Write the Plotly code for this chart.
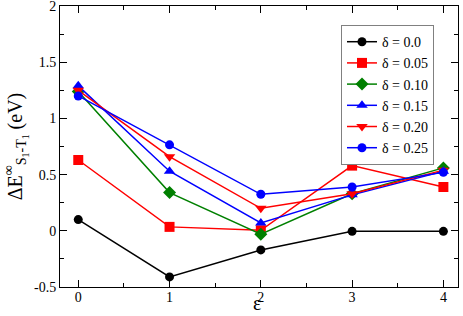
import plotly.graph_objects as go

eps = [0, 1, 2, 3, 4]
names = ["δ = 0.0", "δ = 0.05", "δ = 0.10", "δ = 0.15", "δ = 0.20", "δ = 0.25"]
d000 = [0.10, -0.41, -0.17, -0.005, -0.005]
d005 = [0.63, 0.035, 0.005, 0.58, 0.39]
d010 = [1.24, 0.34, -0.03, 0.33, 0.56]
d015 = [1.29, 0.53, 0.07, 0.32, 0.53]
d020 = [1.25, 0.66, 0.20, 0.33, 0.54]
d025 = [1.20, 0.765, 0.325, 0.39, 0.52]
series = [d000, d005, d010, d015, d020, d025]
colors = ["black", "red", "green", "blue", "red", "blue"]
symbols = ["circle", "square", "diamond", "triangle-up", "triangle-down", "circle"]
msizes = [9, 10, 10, 10, 10, 9]

fig = go.Figure()
for n, ys, c, s, ms in zip(names, series, colors, symbols, msizes):
    fig.add_trace(go.Scatter(x=eps, y=ys, name=n, mode="lines+markers",
                             line=dict(color=c, width=1.5),
                             marker=dict(symbol=s, size=ms, color=c)))

font = "Liberation Serif"
axis_common = dict(showline=True, linecolor="black", linewidth=1, mirror="allticks",
                   ticks="inside", ticklen=7, tickcolor="black", showgrid=False,
                   zeroline=False, ticklabeloverflow="allow", automargin=False,
                   tickfont=dict(family=font, size=14, color="black"))
fig.update_xaxes(range=[-0.2, 4.16], tickvals=[0, 1, 2, 3, 4], ticklabelstandoff=-3,
                 minor=dict(dtick=0.5, ticks="inside", ticklen=4, tickcolor="black"),
                 **axis_common)
fig.update_yaxes(range=[-0.5, 2.0005], tickvals=[-0.5, 0, 0.5, 1, 1.5, 2],
                 ticktext=["-0.5", "0", "0.5", "1", "1.5", "2"],
                 minor=dict(dtick=0.25, ticks="inside", ticklen=4, tickcolor="black"),
                 title=dict(text="ΔE<sup>∞</sup><sub>S<sub>1</sub>-T<sub>1</sub></sub> (eV)",
                            font=dict(family=font, size=20, color="black"), standoff=6),
                 **axis_common)
fig.add_annotation(text="ε", xref="paper", yref="paper", x=0.495, y=-0.1025,
                   xanchor="center", yanchor="bottom", showarrow=False,
                   font=dict(family=font, size=20, color="black"))
fig.update_layout(width=463, height=316, margin=dict(l=60, r=5, t=6, b=29),
                  plot_bgcolor="white", paper_bgcolor="white",
                  legend=dict(x=0.706, y=0.932, xanchor="left", yanchor="top",
                              bgcolor="white", bordercolor="#808080", borderwidth=1,
                              font=dict(family=font, size=14, color="black"),
                              itemwidth=30, tracegroupgap=0),
                  font=dict(family=font))
fig.write_html("out.html", config={"displayModeBar": False},
               post_script="document.body.style.margin='0';")
